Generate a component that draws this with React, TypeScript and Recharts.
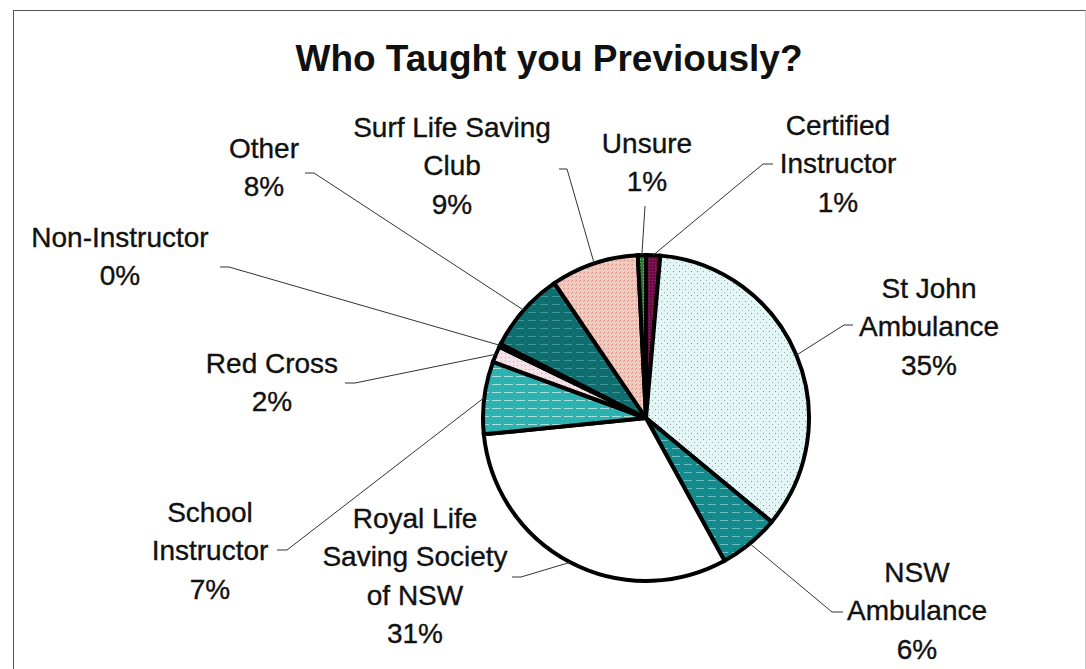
import React from "react";
import { PieChart, Pie, Cell } from "recharts";

// ---- data ----
const CATEGORIES = [
  "Certified\nInstructor",
  "St John\nAmbulance",
  "NSW\nAmbulance",
  "Royal Life\nSaving Society\nof NSW",
  "School\nInstructor",
  "Red Cross",
  "Non-Instructor",
  "Other",
  "Surf Life Saving\nClub",
  "Unsure",
];
const VALUES = [1.4, 34.6, 6.0, 31.4, 7.2, 1.6, 0.3, 8.0, 8.7, 0.8];
const TITLE = "Who Taught you Previously?";

// ---- styles / layout ----
const FILLS = [
  "url(#pCert)",
  "url(#pStJohn)",
  "url(#pNSW)",
  "#ffffff",
  "url(#pSchool)",
  "url(#pRed)",
  "#111111",
  "url(#pOther)",
  "url(#pSurf)",
  "url(#pUnsure)",
];

// text block: center x, first line y; leader: start point at text, stub end x
const LABEL_LAYOUT = [
  { tx: 838, ty: 125, lx: 773, ly: 164, sx: 763 },
  { tx: 929, ty: 288, lx: 853, ly: 325, sx: 844 },
  { tx: 917, ty: 572, lx: 843, ly: 612, sx: 832 },
  { tx: 415, ty: 518, lx: 512, ly: 577, sx: 521 },
  { tx: 210, ty: 512, lx: 277, ly: 550, sx: 287 },
  { tx: 272, ty: 363, lx: 345, ly: 383, sx: 355 },
  { tx: 120, ty: 237, lx: 220, ly: 267, sx: 229 },
  { tx: 264, ty: 148, lx: 305, ly: 173, sx: 314 },
  { tx: 452, ty: 127, lx: 559, ly: 169, sx: 567 },
  { tx: 647, ty: 143, lx: 645, ly: 206, sx: 645 },
];

const FONT = '"Liberation Sans", Arial, sans-serif';
const LINE_H = 38.5;
const RAD = Math.PI / 180;

const data = CATEGORIES.map((name, i) => ({ name, value: VALUES[i] }));

const renderLabel = (props: any) => {
  const { cx, cy, midAngle, outerRadius, index, percent, name } = props;
  const lay = LABEL_LAYOUT[index];
  const ex = cx + outerRadius * Math.cos(-midAngle * RAD);
  const ey = cy + outerRadius * Math.sin(-midAngle * RAD);
  const lines = String(name).split("\n");
  lines.push(`${Math.round(percent * 100)}%`);
  return (
    <g key={`lab-${index}`}>
      <path
        d={`M${lay.lx},${lay.ly} L${lay.sx},${lay.ly} L${ex},${ey}`}
        stroke="#333"
        strokeWidth={1}
        fill="none"
      />
      {lines.map((t, i) => (
        <text
          key={i}
          x={lay.tx}
          y={lay.ty + i * LINE_H}
          textAnchor="middle"
          dominantBaseline="central"
          fontFamily={FONT}
          fontSize={28}
          fill="#111"
          stroke="#111"
          strokeWidth={0.35}
        >
          {t}
        </text>
      ))}
    </g>
  );
};

function Patterns() {
  return (
    <svg width={0} height={0} style={{ position: "absolute" }}>
      <defs>
        <pattern id="pStJohn" width="6" height="6" patternUnits="userSpaceOnUse">
          <rect width="6" height="6" fill="#e3f5f5" />
          <rect x="1" y="1" width="1" height="1" fill="#7d9a9c" />
          <rect x="4" y="4" width="1" height="1" fill="#9ab4b5" />
        </pattern>
        <pattern id="pSurf" width="4" height="4" patternUnits="userSpaceOnUse">
          <rect width="4" height="4" fill="#f1c7ba" />
          <rect x="0" y="0" width="1" height="1" fill="#d98f82" />
          <rect x="2" y="2" width="1" height="1" fill="#fbe6df" />
          <rect x="3" y="1" width="1" height="1" fill="#e0a294" />
        </pattern>
        <pattern id="pNSW" width="12" height="8" patternUnits="userSpaceOnUse">
          <rect width="12" height="8" fill="#148a8c" />
          <rect x="0" y="0" width="8" height="1" fill="#6cbfbf" />
          <rect x="3" y="4" width="1" height="1" fill="#0b6a6c" />
        </pattern>
        <pattern id="pSchool" width="12" height="8" patternUnits="userSpaceOnUse">
          <rect width="12" height="8" fill="#2cb2b1" />
          <rect x="0" y="0" width="9" height="1" fill="#a8e0de" />
          <rect x="5" y="4" width="1" height="1" fill="#179391" />
        </pattern>
        <pattern id="pOther" width="12" height="8" patternUnits="userSpaceOnUse">
          <rect width="12" height="8" fill="#0f6e70" />
          <rect x="0" y="0" width="8" height="1" fill="#3f9597" />
          <rect x="6" y="4" width="1" height="1" fill="#0a5557" />
        </pattern>
        <pattern id="pRed" width="4" height="4" patternUnits="userSpaceOnUse">
          <rect width="4" height="4" fill="#f4e2e6" />
          <rect x="1" y="1" width="1" height="1" fill="#c9a1aa" />
        </pattern>
        <pattern id="pCert" width="3" height="3" patternUnits="userSpaceOnUse">
          <rect width="3" height="3" fill="#6e0d45" />
          <rect x="1" y="1" width="1" height="1" fill="#9a2a6a" />
        </pattern>
        <pattern id="pUnsure" width="3" height="3" patternUnits="userSpaceOnUse">
          <rect width="3" height="3" fill="#2a7d2f" />
          <rect x="1" y="1" width="1" height="1" fill="#7fc07f" />
        </pattern>
      </defs>
    </svg>
  );
}

export default function App() {
  return (
    <div
      style={{
        position: "absolute",
        left: 0,
        top: 0,
        width: 1086,
        height: 669,
        background: "#fff",
        overflow: "hidden",
      }}
    >
      <Patterns />
      {/* frame */}
      <div
        style={{
          position: "absolute",
          left: 13,
          top: 10,
          width: 1071,
          height: 680,
          borderTop: "1.5px solid #555",
          borderLeft: "1.5px solid #555",
          borderRight: "1px solid #ccc",
        }}
      />
      <div
        style={{
          position: "absolute",
          left: 0,
          top: 37,
          width: 1098,
          textAlign: "center",
          fontFamily: FONT,
          fontWeight: "bold",
          fontSize: 37,
          lineHeight: "44px",
          color: "#111",
        }}
      >
        {TITLE}
      </div>
      <div style={{ position: "absolute", left: 0, top: 0 }}>
        <PieChart width={1086} height={669} margin={{ top: 0, right: 0, bottom: 0, left: 0 }}>
          <Pie
            data={data}
            dataKey="value"
            nameKey="name"
            cx={646}
            cy={418}
            outerRadius={163}
            startAngle={90}
            endAngle={-270}
            stroke="#000"
            strokeWidth={4}
            label={renderLabel}
            labelLine={false}
            isAnimationActive={false}
          >
            {data.map((d, i) => (
              <Cell key={d.name} fill={FILLS[i]} stroke="#000" strokeWidth={4} />
            ))}
          </Pie>
        </PieChart>
      </div>
    </div>
  );
}
